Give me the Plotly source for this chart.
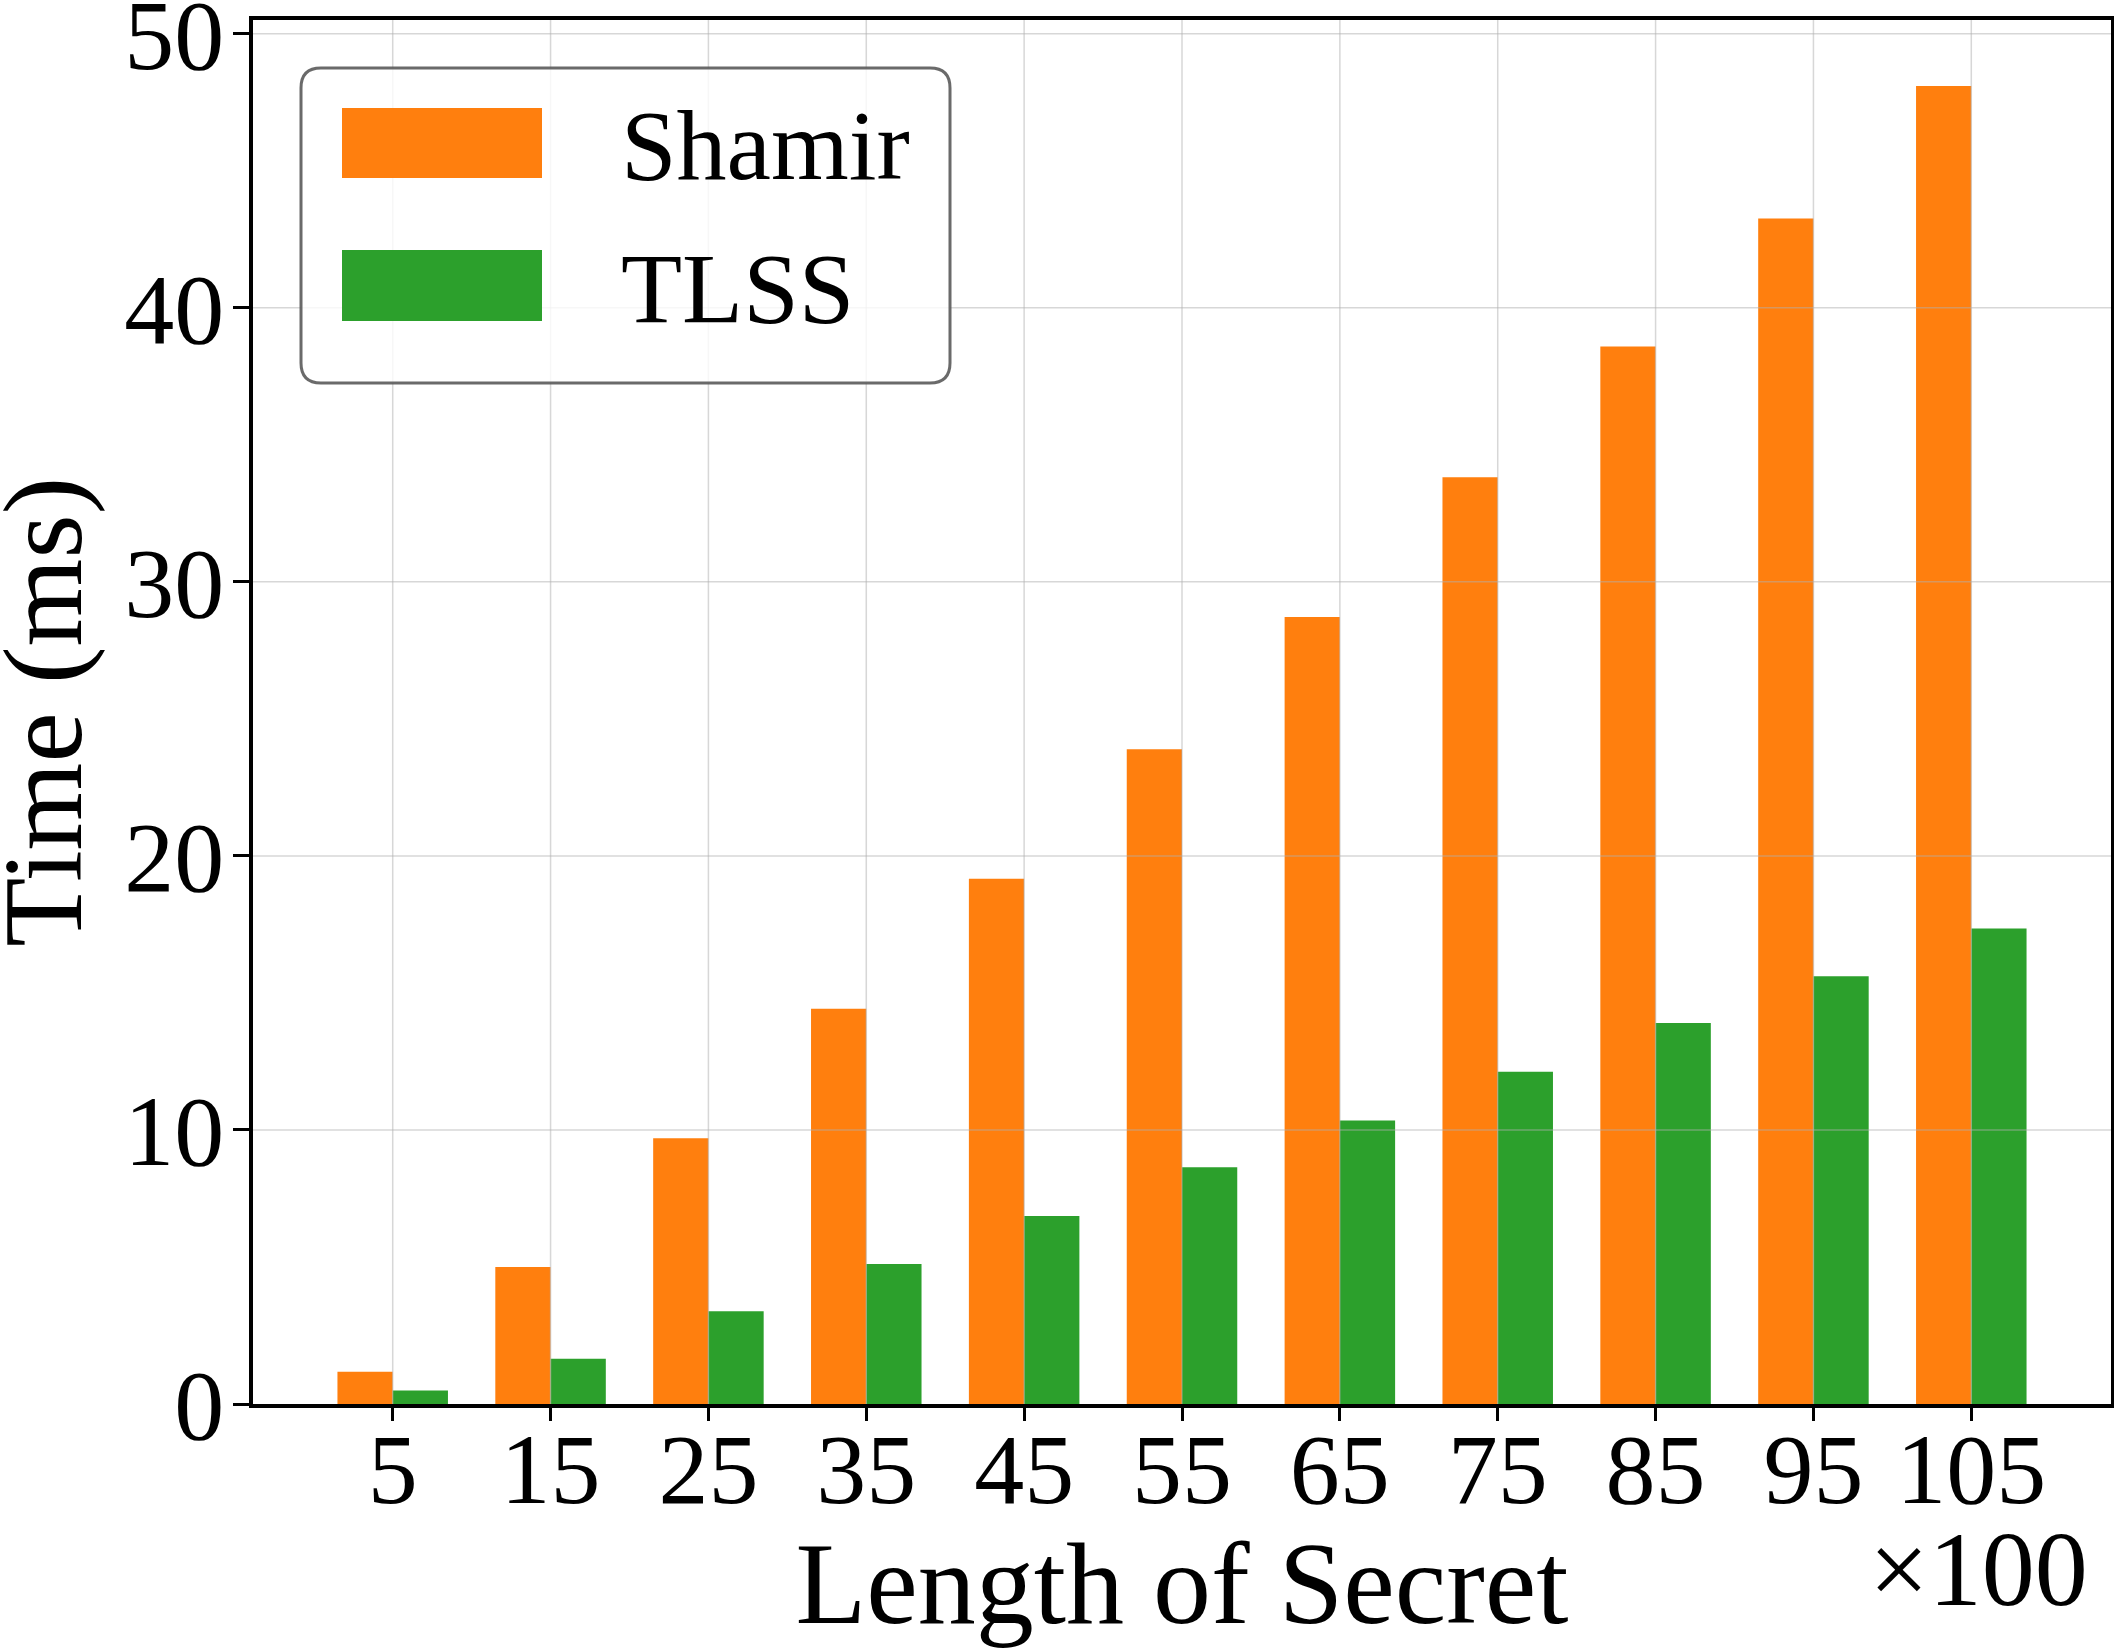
import plotly.graph_objects as go

# ---------------- data ----------------
secret_lengths = [5, 15, 25, 35, 45, 55, 65, 75, 85, 95, 105]   # x100
shamir_ms = [1.18, 5.0, 9.7, 14.42, 19.17, 23.89, 28.72, 33.82, 38.59, 43.26, 48.09]
tlss_ms = [0.49, 1.65, 3.38, 5.11, 6.86, 8.64, 10.34, 12.12, 13.90, 15.61, 17.35]
y_ticks = [0, 10, 20, 30, 40, 50]
series_names = ["Shamir", "TLSS"]
series_colors = ["#ff7f0e", "#2ca02c"]
x_title = "Length of Secret"
y_title = "Time (ms)"
x_scale_note = "×100"

# ---------------- layout constants ----------------
W, H = 2114, 1648
ML, MR, MT, MB = 253, 3, 20, 244
PW, PH = W - ML - MR, H - MT - MB
FONT = "Liberation Serif, Times New Roman, serif"
BAR_W = 3.5


def px_x(px):
    return (px - ML) / PW


def px_y(py):
    return (MT + PH - py) / PH


fig = go.Figure()
fig.add_trace(go.Bar(x=secret_lengths, y=shamir_ms, name=series_names[0],
                     marker=dict(color=series_colors[0], line=dict(width=0)),
                     width=BAR_W, offset=-BAR_W, showlegend=False))
fig.add_trace(go.Bar(x=secret_lengths, y=tlss_ms, name=series_names[1],
                     marker=dict(color=series_colors[1], line=dict(width=0)),
                     width=BAR_W, offset=0, showlegend=False))

shapes = []
grid_col = "rgba(176,176,176,0.5)"
for xv in secret_lengths:
    shapes.append(dict(type="line", xref="x", yref="paper", x0=xv, x1=xv, y0=0, y1=1,
                       line=dict(color=grid_col, width=1.5), layer="above"))
for yv in y_ticks[1:]:
    shapes.append(dict(type="line", xref="paper", yref="y", x0=0, x1=1, y0=yv, y1=yv,
                       line=dict(color=grid_col, width=1.5), layer="above"))

# custom legend (rounded frame + large patches)
lx0, lx1, ly0, ly1, r = 301, 950, 68, 383, 20
X = lambda v: px_x(v)
Y = lambda v: px_y(v)
path = (f"M {X(lx0 + r)} {Y(ly0)} L {X(lx1 - r)} {Y(ly0)} Q {X(lx1)} {Y(ly0)} {X(lx1)} {Y(ly0 + r)} "
        f"L {X(lx1)} {Y(ly1 - r)} Q {X(lx1)} {Y(ly1)} {X(lx1 - r)} {Y(ly1)} "
        f"L {X(lx0 + r)} {Y(ly1)} Q {X(lx0)} {Y(ly1)} {X(lx0)} {Y(ly1 - r)} "
        f"L {X(lx0)} {Y(ly0 + r)} Q {X(lx0)} {Y(ly0)} {X(lx0 + r)} {Y(ly0)} Z")
shapes.append(dict(type="path", xref="paper", yref="paper", path=path,
                   fillcolor="rgba(255,255,255,0.8)", line=dict(color="rgba(90,90,90,0.9)", width=3),
                   layer="above"))
patch_rows = [(108, 178), (250, 321)]
annotations = []
for (py0, py1), col, name in zip(patch_rows, series_colors, series_names):
    shapes.append(dict(type="rect", xref="paper", yref="paper", x0=X(342), x1=X(542),
                       y0=Y(py1), y1=Y(py0), fillcolor=col, line=dict(width=0), layer="above"))
    baseline = py1 + 1
    annotations.append(dict(xref="paper", yref="paper", x=X(619), y=Y(baseline - 33.75),
                            xanchor="left", yanchor="middle", text=name, showarrow=False,
                            font=dict(family=FONT, size=100, color="black")))

annotations.append(dict(xref="paper", yref="paper", x=X(2090), y=Y(1605 - 0.3375 * 106),
                        xanchor="right", yanchor="middle", text=x_scale_note, showarrow=False,
                        font=dict(family=FONT, size=106, color="black")))

# y-axis title (rotated); baseline at x~80 px, centred on the plot height
YT_SIZE = 113
annotations.append(dict(xref="paper", yref="paper", x=X(80 - 0.3375 * YT_SIZE), y=0.5,
                        xanchor="center", yanchor="middle", textangle=-90, text=y_title,
                        showarrow=False, font=dict(family=FONT, size=YT_SIZE, color="black")))

fig.update_layout(
    width=W, height=H,
    margin=dict(l=ML, r=MR, t=MT, b=MB, pad=0, autoexpand=False),
    paper_bgcolor="white", plot_bgcolor="white",
    barmode="overlay",
    font=dict(family=FONT, color="black", size=100),
    shapes=shapes, annotations=annotations,
    showlegend=False,
)
fig.update_xaxes(
    automargin=False,
    range=[-3.85, 113.85], tickvals=secret_lengths, ticktext=[str(v) for v in secret_lengths],
    showgrid=False, zeroline=False, showline=True, linecolor="black", linewidth=3.5, mirror=True,
    ticks="outside", ticklen=13, tickwidth=3, tickcolor="black", ticklabelstandoff=-38,
    ticklabeloverflow="allow",
    tickfont=dict(family=FONT, size=100, color="black"),
    title=dict(text=x_title, font=dict(family=FONT, size=116, color="black"), standoff=41),
)
fig.update_yaxes(
    automargin=False,
    range=[0, 50.5], tickvals=y_ticks, ticktext=[str(v) for v in y_ticks],
    showgrid=False, zeroline=False, showline=True, linecolor="black", linewidth=3.5, mirror=True,
    ticks="outside", ticklen=16, tickwidth=3, tickcolor="black", ticklabelstandoff=-11,
    ticklabeloverflow="allow",
    tickfont=dict(family=FONT, size=100, color="black"),
)

fig.write_html("out.html")
